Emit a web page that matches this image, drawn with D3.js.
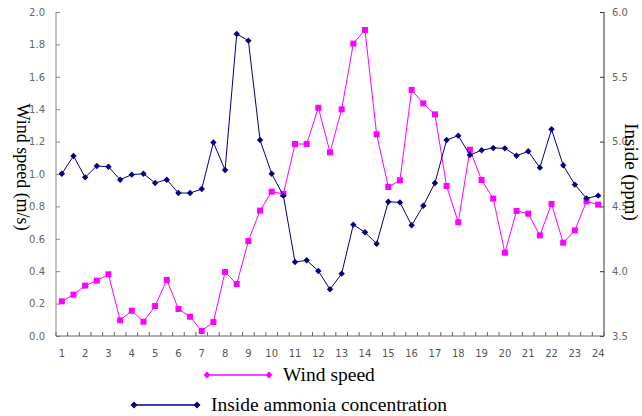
<!DOCTYPE html>
<html>
<head>
<meta charset="utf-8">
<script src="https://cdn.jsdelivr.net/npm/d3@7"></script>
<style>
  html, body { margin: 0; padding: 0; background: #fff; }
  svg { display: block; }
</style>
</head>
<body>
<svg id="chart" width="642" height="416"></svg>
<script>
// ---- data ----
const times = [1,1.5,2,2.5,3,3.5,4,4.5,5,5.5,6,6.5,7,7.5,8,8.5,9,9.5,10,10.5,11,11.5,12,12.5,13,13.5,14,14.5,15,15.5,16,16.5,17,17.5,18,18.5,19,19.5,20,20.5,21,21.5,22,22.5,23,23.5,24];
const tickLabels = ["1","2","3","4","5","6","7","8","9","10","11","12","13","14","15","16","17","18","19","20","21","22","23","24"];
const windSpeed = [0.214,0.255,0.311,0.342,0.381,0.097,0.156,0.088,0.185,0.346,
                   0.167,0.119,0.031,0.086,0.395,0.321,0.586,0.774,0.891,0.877,
                   1.185,1.185,1.409,1.134,1.399,1.805,1.889,1.245,0.920,0.961,
                   1.519,1.436,1.368,0.926,0.702,1.150,0.963,0.848,0.514,0.772,
                   0.755,0.621,0.815,0.576,0.652,0.831,0.811];
const ammonia = [4.752,4.889,4.724,4.812,4.806,4.706,4.745,4.752,4.681,4.706,
                 4.603,4.603,4.634,4.994,4.781,5.830,5.779,5.012,4.752,4.583,
                 4.071,4.084,4.002,3.860,3.981,4.359,4.300,4.212,4.536,4.531,
                 4.354,4.505,4.681,5.012,5.046,4.897,4.933,4.951,4.948,4.891,
                 4.925,4.799,5.095,4.817,4.668,4.562,4.583];
const leftTicks = [0,0.2,0.4,0.6,0.8,1.0,1.2,1.4,1.6,1.8,2.0];
const rightTicks = [3.5,4.0,4.5,5.0,5.5,6.0];
const seriesNames = ["Wind speed", "Inside ammonia concentration"];

// ---- layout ----
const L = 56, R = 604, T = 12, B = 336;
const svg = d3.select("#chart");
const tickFont = "'DejaVu Sans', sans-serif";
const serif = "'Liberation Serif', 'Times New Roman', serif";

const x = d3.scaleBand().domain(d3.range(times.length)).range([L, R]).paddingInner(0).paddingOuter(0);
const yL = d3.scaleLinear().domain([0, 2]).range([B, T]);
const yR = d3.scaleLinear().domain([3.5, 6]).range([B, T]);
const cx = i => x(i) + x.bandwidth() / 2;

// left axis
const gL = svg.append("g").attr("transform", `translate(${L},0)`)
  .call(d3.axisRight(yL).tickValues(leftTicks).tickSize(4).tickFormat(d3.format(".1f")));
gL.select(".domain").attr("stroke", "#888").attr("d", `M0,${T}V${B}`);
gL.selectAll(".tick line").attr("stroke", "#888");
gL.selectAll(".tick text").attr("x", -11).attr("text-anchor", "end")
  .attr("fill", "#666").style("font-family", tickFont).style("font-size", "10px");

// right axis
const gR = svg.append("g").attr("transform", `translate(${R},0)`)
  .call(d3.axisLeft(yR).tickValues(rightTicks).tickSize(4).tickFormat(d3.format(".1f")));
gR.select(".domain").attr("stroke", "#333").attr("d", `M0,${T}V${B}`);
gR.selectAll(".tick line").attr("stroke", "#333");
gR.selectAll(".tick text").attr("x", 8).attr("text-anchor", "start")
  .attr("fill", "#666").style("font-family", tickFont).style("font-size", "10px");

// bottom axis
const gB = svg.append("g").attr("transform", `translate(0,${B})`);
gB.append("line").attr("x1", L).attr("x2", R).attr("y1", 0).attr("y2", 0).attr("stroke", "#666");
const boundaries = d3.range(times.length).map(i => x(i)).concat([R]);
gB.selectAll("line.tk").data(boundaries).join("line").attr("class", "tk")
  .attr("x1", d => d).attr("x2", d => d).attr("y1", 0).attr("y2", -4).attr("stroke", "#666");
const labelIdx = d3.range(times.length).filter(i => Number.isInteger(times[i]));
gB.selectAll("text").data(labelIdx).join("text")
  .attr("x", i => cx(i)).attr("y", 21).attr("text-anchor", "middle")
  .attr("fill", "#555").style("font-family", tickFont).style("font-size", "10px")
  .text((i, k) => tickLabels[k]);

// axis titles
svg.append("text").attr("transform", `translate(23,${(T + B) / 2 - 7}) rotate(90)`)
  .attr("text-anchor", "middle").attr("dominant-baseline", "central")
  .style("font-family", serif).style("font-size", "18px").attr("fill", "#000")
  .text("Wind speed (m/s)");
svg.append("text").attr("transform", `translate(631,172) rotate(90)`)
  .attr("text-anchor", "middle").attr("dominant-baseline", "central")
  .style("font-family", serif).style("font-size", "19px").attr("fill", "#000")
  .text("Inside (ppm)");

const pink = "#FF00FF", navy = "#000080";

// wind speed series
const lineL = d3.line().x((d, i) => cx(i)).y(d => yL(d));
svg.append("path").datum(windSpeed).attr("d", lineL).attr("fill", "none")
  .attr("stroke", pink).attr("stroke-width", 1);
svg.selectAll("rect.ws").data(windSpeed).join("rect").attr("class", "ws")
  .attr("x", (d, i) => cx(i) - 3).attr("y", d => yL(d) - 3)
  .attr("width", 6).attr("height", 6).attr("fill", pink);

// ammonia series
const lineR = d3.line().x((d, i) => cx(i)).y(d => yR(d));
svg.append("path").datum(ammonia).attr("d", lineR).attr("fill", "none")
  .attr("stroke", navy).attr("stroke-width", 1);
const diamond = (px, py, r) => `M${px},${py - r}L${px + r},${py}L${px},${py + r}L${px - r},${py}Z`;
svg.selectAll("path.am").data(ammonia).join("path").attr("class", "am")
  .attr("d", (d, i) => diamond(cx(i), yR(d), 3.2)).attr("fill", navy);

// legend
const legend = [
  {name: seriesNames[0], color: pink, x1: 207, x2: 269, y: 375},
  {name: seriesNames[1], color: navy, x1: 134, x2: 197, y: 405}
];
legend.forEach(l => {
  svg.append("line").attr("x1", l.x1).attr("x2", l.x2).attr("y1", l.y).attr("y2", l.y)
    .attr("stroke", l.color).attr("stroke-width", 1.5);
  [l.x1, l.x2].forEach(px => svg.append("path").attr("d", diamond(px, l.y, 3.5)).attr("fill", l.color));
  svg.append("text").attr("x", l.x2 + 14).attr("y", l.y + 6)
    .style("font-family", serif).style("font-size", "19.5px").attr("fill", "#000").text(l.name);
});
</script>
</body>
</html>
